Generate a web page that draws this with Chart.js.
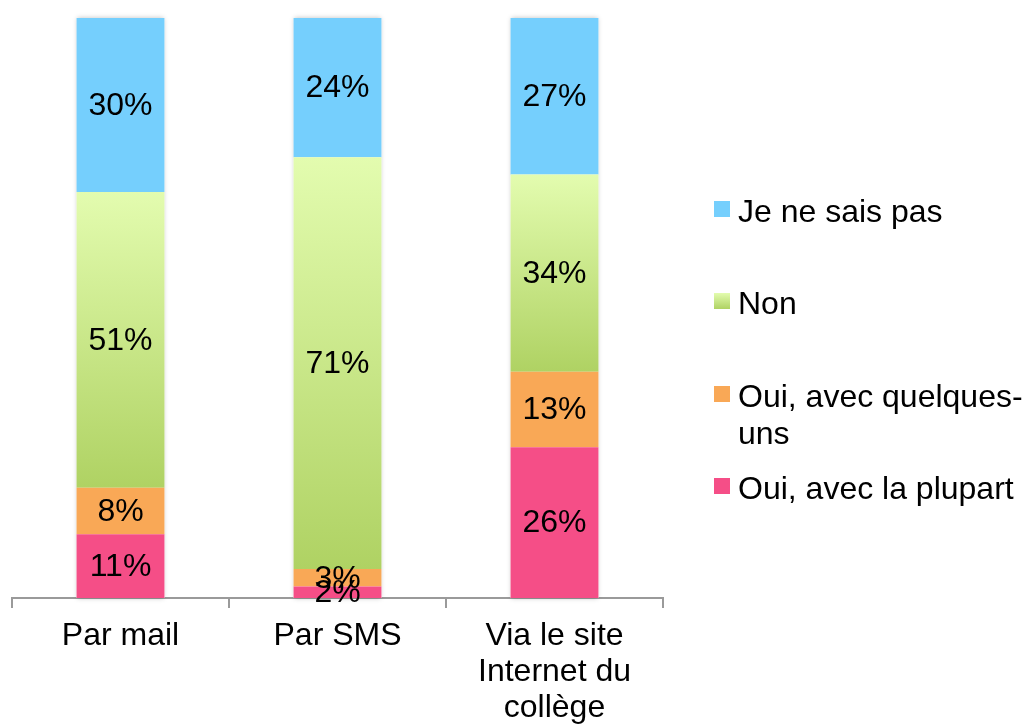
<!DOCTYPE html>
<html>
<head>
<meta charset="utf-8">
<script src="https://cdn.jsdelivr.net/npm/chart.js@4"></script>
<style>
  html, body { margin: 0; padding: 0; background: #fff; }
  #wrap { width: 1023px; height: 724px; }
</style>
</head>
<body>
<div id="wrap"><canvas id="chart"></canvas></div>
<script>
// categories and series (percent)
const categories = [["Par mail"], ["Par SMS"], ["Via le site", "Internet du", "collège"]];
const seriesNames = ["Oui, avec la plupart", "Oui, avec quelques-uns", "Non", "Je ne sais pas"];
const laPlupart = [11, 2, 26];
const quelquesUns = [8, 3, 13];
const non = [51, 71, 34];
const jeNeSaisPas = [30, 24, 27];

// legend text as shown (top to bottom)
const legendLines = [["Je ne sais pas"], ["Non"], ["Oui, avec quelques-", "uns"], ["Oui, avec la plupart"]];

const FONT = '"Liberation Sans", Arial, sans-serif';
const FONT_SIZE = 32;
const BLUE = "#75cffd";
const ORANGE = "#f9a856";
const PINK = "#f54e87";
const GREEN_TOP = "#e3fcaf";
const GREEN_BOTTOM = "#afd263";

// green segments get a vertical gradient over their own height
function greenFill(context) {
  const chart = context.chart;
  if (!chart.chartArea || context.dataIndex === undefined) return GREEN_BOTTOM;
  const y = chart.scales.y;
  const i = context.dataIndex;
  const bottom = laPlupart[i] + quelquesUns[i];
  const top = bottom + non[i];
  const y0 = y.getPixelForValue(top);
  const y1 = y.getPixelForValue(bottom);
  const g = chart.ctx.createLinearGradient(0, y0, 0, y1);
  g.addColorStop(0, GREEN_TOP);
  g.addColorStop(1, GREEN_BOTTOM);
  return g;
}

const segmentLabels = {
  id: "segmentLabels",
  afterDatasetsDraw(chart) {
    const ctx = chart.ctx;
    ctx.save();
    ctx.font = FONT_SIZE + "px " + FONT;
    ctx.fillStyle = "#000";
    ctx.textAlign = "center";
    ctx.textBaseline = "middle";
    chart.data.datasets.forEach((ds, di) => {
      chart.getDatasetMeta(di).data.forEach((bar, i) => {
        ctx.fillText(ds.data[i] + "%", bar.x, (bar.y + bar.base) / 2 + 1);
      });
    });
    ctx.restore();
  }
};

const barShadow = {
  id: "barShadow",
  beforeDatasetsDraw(chart) {
    const ctx = chart.ctx;
    ctx.save();
    ctx.shadowColor = "rgba(0,0,0,0.25)";
    ctx.shadowBlur = 5;
    ctx.fillStyle = "#fff";
    const first = chart.getDatasetMeta(0).data;
    const last = chart.getDatasetMeta(chart.data.datasets.length - 1).data;
    first.forEach((bar, i) => {
      const w = bar.width;
      ctx.fillRect(bar.x - w / 2, last[i].y, w, bar.base - last[i].y);
    });
    ctx.restore();
  }
};

const sideLegend = {
  id: "sideLegend",
  afterDraw(chart) {
    const ctx = chart.ctx;
    const colors = [BLUE, null, ORANGE, PINK];
    const rows = [213, 305, 398, 490];
    ctx.save();
    ctx.font = FONT_SIZE + "px " + FONT;
    ctx.textBaseline = "middle";
    legendLines.forEach((lines, k) => {
      const cy = rows[k];
      let fill = colors[k];
      if (!fill) {
        fill = ctx.createLinearGradient(0, cy - 12, 0, cy + 4);
        fill.addColorStop(0, GREEN_TOP);
        fill.addColorStop(1, GREEN_BOTTOM);
      }
      ctx.fillStyle = fill;
      ctx.fillRect(714, cy - 12, 16, 16);
      ctx.fillStyle = "#000";
      lines.forEach((t, j) => {
        ctx.fillText(t, 738, cy + j * 37);
      });
    });
    ctx.restore();
  }
};

const datasets = [
  { label: seriesNames[0], data: laPlupart, backgroundColor: PINK },
  { label: seriesNames[1], data: quelquesUns, backgroundColor: ORANGE },
  { label: seriesNames[2], data: non, backgroundColor: greenFill },
  { label: seriesNames[3], data: jeNeSaisPas, backgroundColor: BLUE }
];

new Chart(document.getElementById("chart"), {
  type: "bar",
  data: { labels: categories, datasets: datasets },
  options: {
    responsive: true,
    maintainAspectRatio: false,
    animation: false,
    layout: { padding: { left: 12, right: 360, top: 18, bottom: -12 } },
    datasets: { bar: { barPercentage: 0.405, categoryPercentage: 1 } },
    plugins: { legend: { display: false }, tooltip: { enabled: false } },
    scales: {
      x: {
        stacked: true,
        grid: {
          offset: true,
          drawOnChartArea: false,
          drawTicks: true,
          tickLength: 10,
          color: "#9a9a9a",
          lineWidth: 2
        },
        border: { display: true, color: "#9a9a9a", width: 2 },
        ticks: {
          color: "#000",
          padding: 10,
          maxRotation: 0,
          font: { family: FONT, size: FONT_SIZE, lineHeight: 1.125 }
        }
      },
      y: { stacked: true, display: false, min: 0, max: 100 }
    }
  },
  plugins: [barShadow, segmentLabels, sideLegend]
});
</script>
</body>
</html>
